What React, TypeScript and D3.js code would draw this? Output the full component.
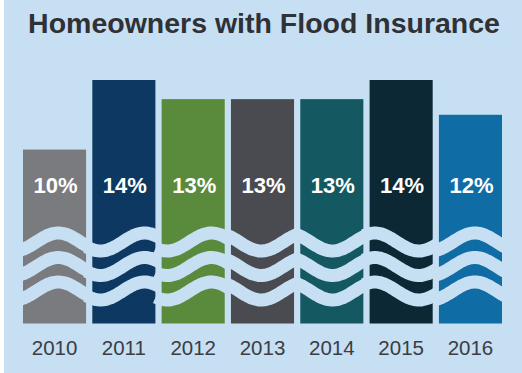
import React from "react";
import * as d3 from "d3";

const years = ["2010", "2011", "2012", "2013", "2014", "2015", "2016"];
const shares = [10, 14, 12.9, 12.9, 12.9, 14, 12];
const barColors = ["#7a7b7e", "#0d3862", "#5a8a3b", "#4a4b50", "#145961", "#0b2834", "#106ca4"];
// decorative wave: crest position within each bar (fraction of bar width)
const waveCrest = [0.56, 0.83, 0.79, -0.22, -0.19, 0.08, 0.57];

const W = 522;
const H = 373;
const BG = "#c7dff3";

export default function App() {
  const x = d3.scaleBand<string>().domain(years).range([23, 502]).paddingInner(0.09).paddingOuter(0);
  const y = d3.scaleLinear().domain([0, 14]).range([323.5, 80]);
  const bw = x.bandwidth();
  const period = bw * 1.4;
  const amp = 9;
  const bandOffsets = [81.5, 57, 32.5];
  const fmt = d3.format(".0f");
  const line = d3.line<[number, number]>().curve(d3.curveBasis);

  return (
    <svg width={W} height={H} style={{ position: "absolute", left: 0, top: 0 }}>
      <rect x={0} y={0} width={W} height={H} fill="#ffffff" />
      <rect x={4} y={0} width={W - 4} height={H} fill={BG} />
      <text
        x={264}
        y={33}
        textAnchor="middle"
        fontFamily="'Liberation Sans', Arial, sans-serif"
        fontWeight="bold"
        fontSize={28.5}
        fill="#2f3136"
      >
        Homeowners with Flood Insurance
      </text>
      {years.map((yr, i) => {
        const x0 = x(yr) as number;
        const crest = x0 + waveCrest[i] * bw;
        const pts = (base: number): [number, number][] =>
          d3.range(x0 - 6, x0 + bw + 6.01, 1.5).map((px) => [
            px,
            base - amp * Math.cos((2 * Math.PI * (px - crest)) / period),
          ]);
        return (
          <g key={yr}>
            <rect x={x0} y={y(shares[i])} width={bw} height={y(0) - y(shares[i])} fill={barColors[i]} />
            {bandOffsets.map((off, k) => (
              <path
                key={k}
                d={line(pts(y(0) - off)) || ""}
                fill="none"
                stroke={BG}
                strokeWidth={13}
              />
            ))}
            <text
              x={x0 + bw / 2 + 1}
              y={193}
              textAnchor="middle"
              fontFamily="'Liberation Sans', Arial, sans-serif"
              fontWeight="bold"
              fontSize={22}
              fill="#ffffff"
            >
              {fmt(shares[i]) + "%"}
            </text>
            <text
              x={x0 + bw / 2}
              y={355}
              textAnchor="middle"
              fontFamily="'Liberation Sans', Arial, sans-serif"
              fontSize={20.5}
              fill="#3a3d43"
            >
              {yr}
            </text>
          </g>
        );
      })}
    </svg>
  );
}
